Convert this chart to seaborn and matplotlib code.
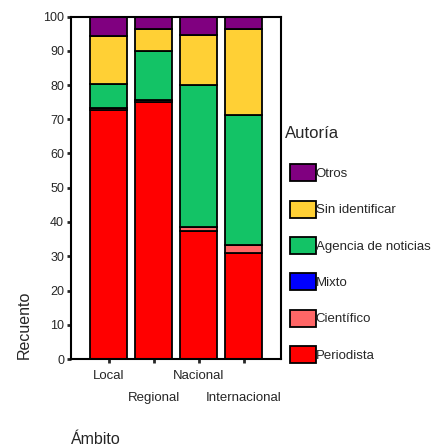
import matplotlib
matplotlib.use("Agg")
import matplotlib.pyplot as plt
import seaborn as sns
import pandas as pd

# ---- data (percent of items per scope) ----
ambitos = ["Local", "Regional", "Nacional", "Internacional"]
autorias = ["Otros", "Sin identificar", "Agencia de noticias", "Mixto", "Científico", "Periodista"]
periodista = [72.6, 75.0, 37.4, 30.9]
cientifico = [0.8, 0.6, 1.1, 2.5]
mixto = [0.0, 0.0, 0.0, 0.0]
agencia = [7.0, 14.4, 41.5, 37.8]
sin_identificar = [13.9, 6.3, 14.7, 25.1]
otros = [5.7, 3.7, 5.3, 3.7]
colores = ["#800080", "#FFD035", "#13C366", "#0000FF", "#FF6666", "#FF0000"]

series = {
    "Otros": otros,
    "Sin identificar": sin_identificar,
    "Agencia de noticias": agencia,
    "Mixto": mixto,
    "Científico": cientifico,
    "Periodista": periodista,
}
rows = []
for a in autorias:
    for amb, v in zip(ambitos, series[a]):
        rows.append({"Ámbito": amb, "Autoría": a, "pct": v})
df = pd.DataFrame(rows)

sns.set_theme(style="white")
plt.rcParams["font.family"] = ["Liberation Sans", "DejaVu Sans"]

fig = plt.figure(figsize=(4.33, 4.46), dpi=100)
ax = fig.add_axes([71 / 433, 1 - 359 / 446, 210 / 433, 342.5 / 446])

sns.histplot(
    data=df, x="Ámbito", hue="Autoría", weights="pct",
    hue_order=autorias, palette=dict(zip(autorias, colores)),
    multiple="stack", discrete=True, shrink=0.82,
    edgecolor="black", linewidth=1.3, alpha=1, ax=ax,
)

ax.set_xlim(-0.84, 3.83)
ax.set_ylim(0, 100)
ax.set_yticks(range(0, 101, 10))
ax.tick_params(axis="y", labelsize=9, length=3, width=2, pad=2, direction="out", left=True)

# staggered category labels: even ones on major ticks, odd ones on minor ticks
pos = list(range(len(ambitos)))
ax.set_xticks(pos[0::2])
ax.set_xticklabels(ambitos[0::2])
ax.set_xticks(pos[1::2], minor=True)
ax.set_xticklabels(ambitos[1::2], minor=True)
ax.tick_params(axis="x", which="major", labelsize=9.5, length=3, width=2, pad=5,
               direction="out", bottom=True)
ax.tick_params(axis="x", which="minor", labelsize=9.5, length=3, width=2, pad=21,
               direction="out", bottom=True)
for s in ax.spines.values():
    s.set_linewidth(1.5)
    s.set_color("black")

ax.set_ylabel("Recuento", fontsize=11.5, loc="bottom", labelpad=8.5)
ax.set_xlabel("Ámbito", fontsize=11.5, loc="left")
ax.xaxis.set_label_coords(0.0, (359 - 432) / 342.5)

sns.move_legend(
    ax, "upper left", bbox_to_anchor=(283 / 433, 1 - 119 / 446),
    bbox_transform=fig.transFigure, frameon=False, title="Autoría",
    title_fontsize=12, fontsize=9.5, alignment="left", borderpad=0,
    handlelength=1.97, handleheight=1.6, handletextpad=0.0, labelspacing=1.47,
)
leg = ax.get_legend()
leg.get_title().set_x(-5)
leg._legend_box.sep = 17

fig.savefig("out.png", dpi=100)
